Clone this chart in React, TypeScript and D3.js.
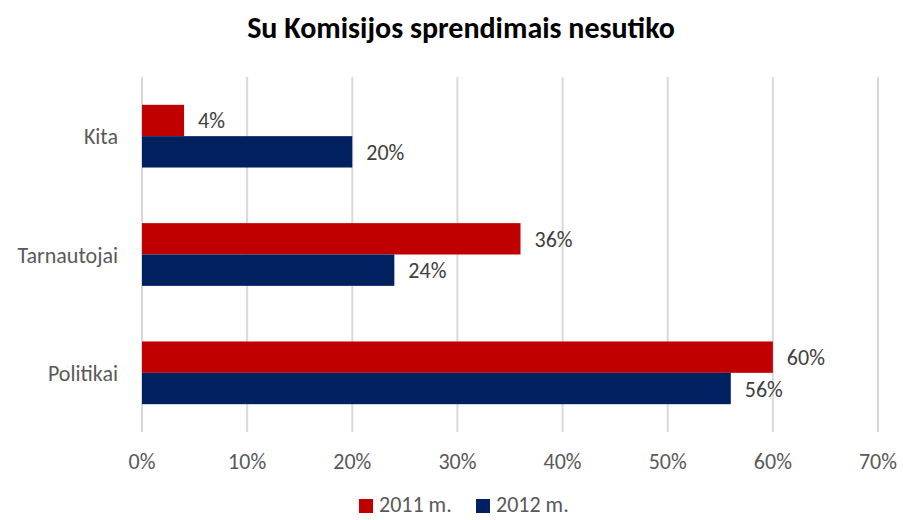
import React from "react";
import * as d3 from "d3";

const categories = ["Kita", "Tarnautojai", "Politikai"];
const seriesNames = ["2011 m.", "2012 m."];
const values2011 = [4, 36, 60];
const values2012 = [20, 24, 56];
const ticks = [0, 10, 20, 30, 40, 50, 60, 70];
const colors = ["#C00000", "#002060"];

const W = 903;
const H = 520;
const font = "Calibri, Carlito, Lato, 'Open Sans', sans-serif";

export default function App() {
  const x = d3.scaleLinear().domain([0, 70]).range([142, 878]);
  const y = d3.scaleBand().domain(categories).range([77, 432]).paddingInner(0.47).paddingOuter(0.235);
  const inner = d3.scaleBand().domain(seriesNames).range([0, y.bandwidth()]);
  const series = [values2011, values2012];

  return (
    <svg width={W} height={H} style={{ position: "absolute", left: 0, top: 0, background: "#fff" }} fontFamily={font}>
      <text x={461} y={38} textAnchor="middle" fontSize={30} fontWeight="bold" fill="#000">
        Su Komisijos sprendimais nesutiko
      </text>

      {ticks.map((t) => (
        <g key={t}>
          <line x1={x(t)} x2={x(t)} y1={77} y2={432} stroke="#d9d9d9" strokeWidth={2} />
          <text x={x(t)} y={469} textAnchor="middle" fontSize={22} fill="#595959">
            {t}%
          </text>
        </g>
      ))}

      {categories.map((c, i) => (
        <g key={c}>
          <text x={118} y={(y(c) ?? 0) + y.bandwidth() / 2 + 8} textAnchor="end" fontSize={22} fill="#595959">
            {c}
          </text>
          {series.map((vals, s) => {
            const yy = (y(c) ?? 0) + (inner(seriesNames[s]) ?? 0);
            return (
              <g key={s}>
                <rect x={x(0)} y={yy} width={x(vals[i]) - x(0)} height={inner.bandwidth()} fill={colors[s]} />
                <text x={x(vals[i]) + 14} y={yy + inner.bandwidth() / 2 + 8} fontSize={22} fill="#404040">
                  {vals[i]}%
                </text>
              </g>
            );
          })}
        </g>
      ))}

      {seriesNames.map((n, s) => {
        const lx = s === 0 ? 359 : 476;
        return (
          <g key={n}>
            <rect x={lx} y={499} width={14} height={14} fill={colors[s]} />
            <text x={lx + 20} y={512} fontSize={22} fill="#595959">
              {n}
            </text>
          </g>
        );
      })}
    </svg>
  );
}
